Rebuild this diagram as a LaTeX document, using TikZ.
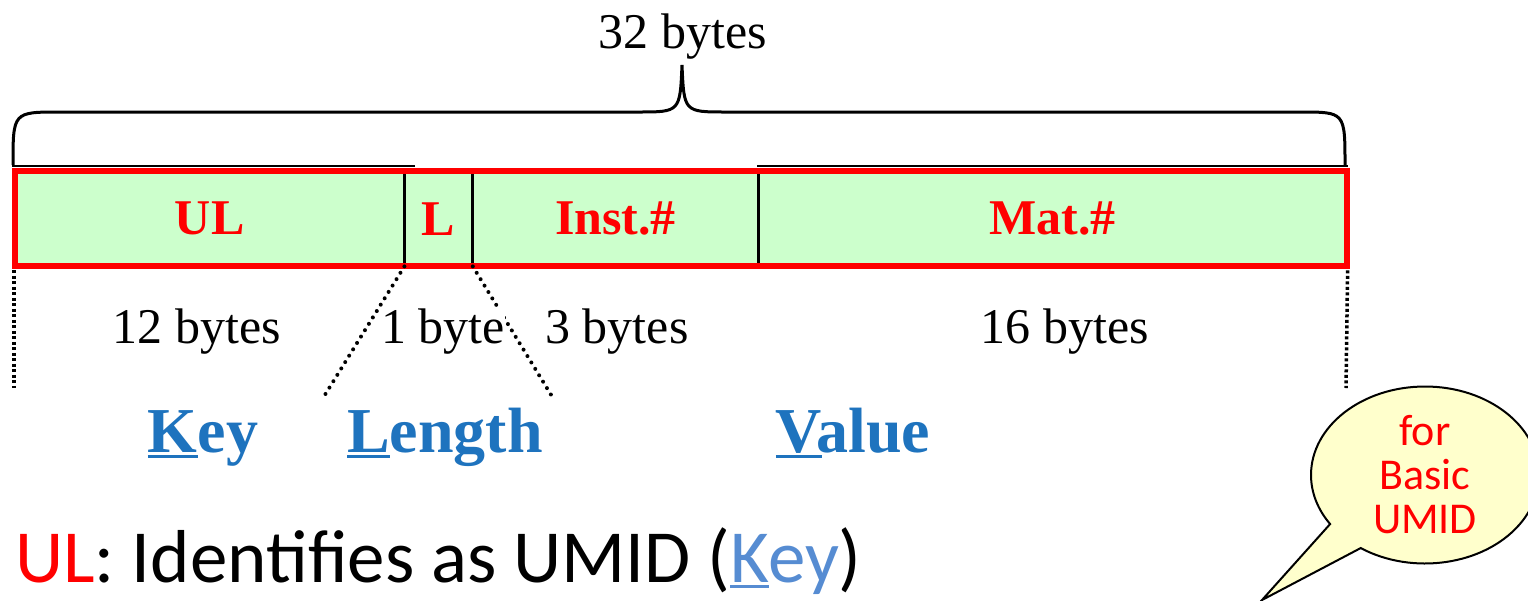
\documentclass[tikz,border=0pt]{standalone}
\usepackage{fontspec}
\setmainfont{Liberation Serif}
\newfontfamily\calibri{Carlito}
\usetikzlibrary{shapes}
\definecolor{cellgreen}{RGB}{204,255,204}
\definecolor{partblue}{RGB}{30,115,190}
\definecolor{keyblue}{RGB}{86,140,210}
\definecolor{notefill}{RGB}{255,255,204}
\newcommand\firstline[1]{\setbox0\hbox{#1}\rlap{\rule[-6pt]{\wd0}{3.5pt}}#1}

\begin{document}
\begin{tikzpicture}[x=1pt,y=-1pt]
    \tikzstyle{cell}=[rectangle,fill=cellgreen,anchor=north west,minimum height=95pt,inner sep=0pt,text=red,font=\fontsize{50}{60}\selectfont\bfseries]
    \tikzstyle{size}=[anchor=base,inner sep=0pt,fill=white,font=\fontsize{50}{60}\selectfont]
    \tikzstyle{part}=[anchor=base,inner sep=0pt,text=partblue,font=\fontsize{64}{76}\selectfont\bfseries]
    \tikzstyle{cut}=[line width=4pt,dash pattern=on 0pt off 7.5pt,line cap=round]
    \tikzstyle{edge}=[line width=3.5pt,dash pattern=on 3pt off 2.5pt]
    \useasboundingbox (0,0) rectangle (1528,600);
    % the four fields
    \node[cell,minimum width=389pt] (ul) at (15,171) {UL};
    \node[cell,minimum width=68pt] (l) at (ul.north east) {L};
    \node[cell,minimum width=285pt] (inst) at (l.north east) {Inst.\#};
    \node[cell,minimum width=588pt] (mat) at (inst.north east) {Mat.\#};
    \draw[line width=3pt] (l.north west) -- (l.south west);
    \draw[line width=3pt] (inst.north west) -- (inst.south west);
    \draw[line width=3pt] (mat.north west) -- (mat.south west);
    \draw[red,line width=6pt] (ul.north west) rectangle (mat.south east);
    \draw[line width=2pt] (12,166) -- (415,166);
    \draw[line width=2pt] (757,166) -- (1348,166);
    % brace
    \draw[line width=3pt] (13,165) .. controls (13,112) .. (60,112) -- (638,112)
        .. controls (680,112) .. (682,65) .. controls (684,112) .. (726,112)
        -- (1300,112) .. controls (1345,112) .. (1345,165);
    \node[size] (total) at (683,48) {32 bytes};
    % dotted guides
    \coordinate (keyend) at (14,388);
    \coordinate (valend) at (1346,388);
    \coordinate (lenl) at (323,398);
    \coordinate (lenr) at (553,398);
    \draw[edge] (ul.south west) ++(-1,4) -- (keyend);
    \draw[edge] (mat.south east) ++(1,4) -- (valend);
    \draw[cut] (l.south west) -- (lenl);
    \draw[cut] (inst.south west) -- (lenr);
    \node[size] (ulsize) at (197,343) {12 bytes};
    \node[size] (lsize) at (443,343) {1 byte};
    \node[size] (instsize) at (617,343) {3 bytes};
    \node[size] (matsize) at (1065,343) {16 bytes};
    \node[part] (key) at (203,452) {\firstline{K}ey};
    \node[part] (length) at (445,452) {\firstline{L}ength};
    \node[part] (value) at (853,452) {\firstline{V}alue};
    % note
    \node[anchor=base west,inner sep=0pt,font=\calibri\fontsize{75}{88}\selectfont] (note) at (15,582)
        {\textcolor{red}{UL}: Identifies as UMID (\textcolor{keyblue}{\firstline{K}ey})};
    \node[ellipse callout,draw,fill=notefill,line width=2pt,minimum width=228pt,minimum height=176pt,
        callout absolute pointer={(1262,600)},callout pointer arc=22,text=red,align=center,
        font=\calibri\fontsize{44}{44}\selectfont] (bubble) at (1425,475) {for\\Basic\\UMID};
\end{tikzpicture}
\end{document}
